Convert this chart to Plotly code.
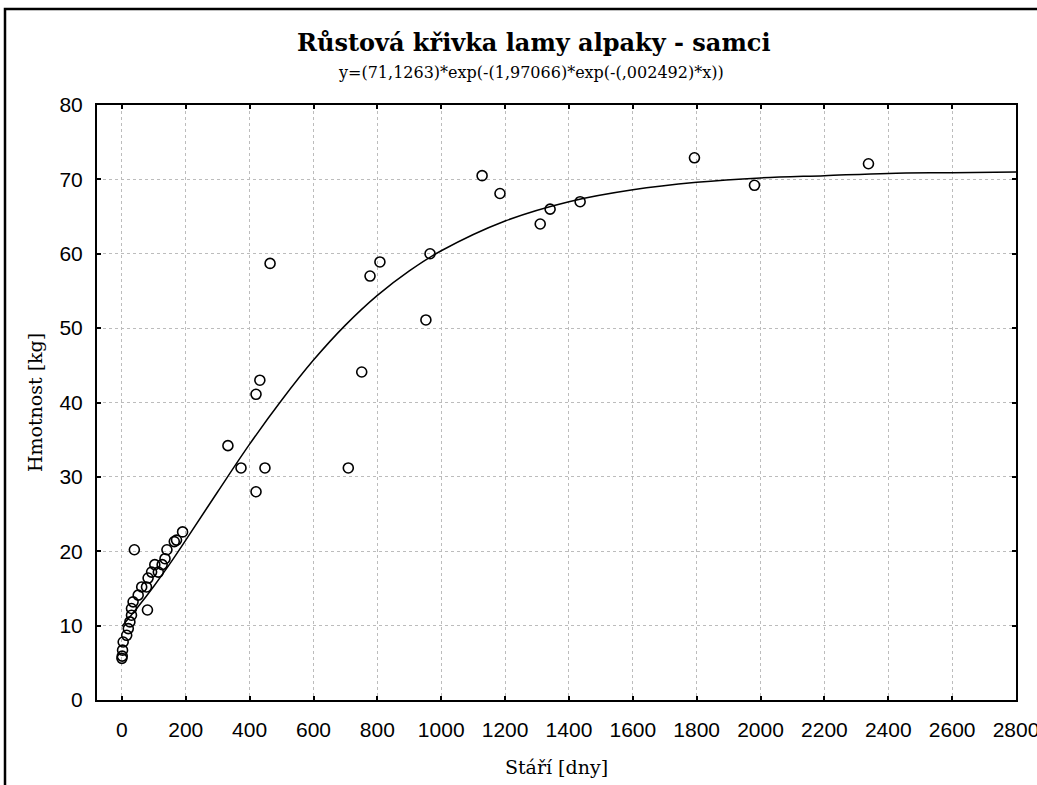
import plotly.graph_objects as go

# Observed data: age [days] and weight [kg]
ages = [0, 1, 2, 4, 15, 20, 25, 30, 30, 35, 39, 51, 62, 77, 80, 82, 93, 103, 114,
        126, 135, 141, 164, 171, 190, 332, 373, 420, 420, 432, 448, 464, 709, 751,
        777, 808, 952, 965, 1128, 1184, 1310, 1341, 1435, 1793, 1981, 2338]
weights = [5.6, 5.9, 6.7, 7.8, 8.7, 9.6, 10.5, 11.4, 12.3, 13.2, 20.2, 14.1, 15.2,
           15.2, 12.1, 16.4, 17.2, 18.2, 17.2, 18.2, 19.0, 20.2, 21.3, 21.5, 22.6,
           34.2, 31.2, 41.1, 28.0, 43.0, 31.2, 58.7, 31.2, 44.1, 57.0, 58.9, 51.1,
           60.0, 70.5, 68.1, 64.0, 66.0, 67.0, 72.9, 69.2, 72.1]

# Fitted curve
curve_x = [0, 50, 100, 150, 200, 300, 400, 500, 600, 700, 800, 900, 1000, 1200,
           1400, 1600, 1800, 2000, 2200, 2400, 2600, 2800]
curve_y = [9.9, 12.5, 15.3, 18.3, 21.5, 28.0, 34.4, 40.3, 45.7, 50.4, 54.4, 57.7,
           60.4, 64.4, 67.0, 68.6, 69.6, 70.2, 70.5, 70.8, 70.9, 71.0]

x_ticks = list(range(0, 2801, 200))
y_ticks = list(range(0, 81, 10))

title_text = "Růstová křivka lamy alpaky - samci"
subtitle_text = "y=(71,1263)*exp(-(1,97066)*exp(-(,002492)*x))"
x_title = "Stáří [dny]"
y_title = "Hmotnost [kg]"

W, H = 1037, 785
L, R, T, B = 97, 21, 105, 85
pw, ph = W - L - R, H - T - B

def px(xp):
    return (xp - L) / pw

def py(yp):
    return (H - B - yp) / ph

fig = go.Figure()
fig.add_trace(go.Scatter(x=curve_x, y=curve_y, mode="lines", line_shape="spline",
                         line=dict(color="black", width=1.5), hoverinfo="skip"))
fig.add_trace(go.Scatter(x=ages, y=weights, mode="markers",
                         marker=dict(symbol="circle-open", size=10, color="black",
                                     line=dict(width=1.6, color="black"))))

axis_common = dict(showline=True, linecolor="black", linewidth=2, mirror="ticks",
                   ticks="inside", ticklen=4, tickwidth=2, tickcolor="black",
                   showgrid=True, gridcolor="#bcbcbc", griddash="dot", gridwidth=1,
                   zeroline=False, ticklabeloverflow="allow", automargin=False,
                   tickfont=dict(family="Liberation Sans, Arial", size=21, color="black"))

fig.update_xaxes(range=[-78, 2800], tickvals=x_ticks, ticktext=[str(v) for v in x_ticks],
                 ticklabelstandoff=10,
                 title=dict(text=x_title, standoff=20,
                            font=dict(family="DejaVu Serif", size=19, color="black")),
                 **axis_common)
fig.update_yaxes(range=[0, 80], tickvals=y_ticks, ticktext=[str(v) for v in y_ticks],
                 ticklabelstandoff=8,
                 title=dict(text=y_title, standoff=12,
                            font=dict(family="DejaVu Serif", size=19, color="black")),
                 **axis_common)

fig.add_annotation(text="<b>" + title_text + "</b>", xref="paper", yref="paper",
                   x=px(534), y=py(43), showarrow=False, xanchor="center", yanchor="middle",
                   font=dict(family="DejaVu Serif", size=24, color="black"))
fig.add_annotation(text=subtitle_text, xref="paper", yref="paper",
                   x=px(531), y=py(73), showarrow=False, xanchor="center", yanchor="middle",
                   font=dict(family="DejaVu Serif", size=16, color="black"))

# outer frame (left and top edges visible)
fig.add_shape(type="path", xref="paper", yref="paper",
              path=f"M {px(5)} {py(800)} L {px(5)} {py(9)} L {px(1050)} {py(9)}",
              line=dict(color="black", width=2.5))

fig.update_layout(width=W, height=H, margin=dict(l=L, r=R, t=T, b=B, autoexpand=False),
                  paper_bgcolor="white", plot_bgcolor="white", showlegend=False)

fig.write_html("out.html", config={"displayModeBar": False},
               post_script="document.body.style.margin='0';document.body.style.overflow='hidden';")
